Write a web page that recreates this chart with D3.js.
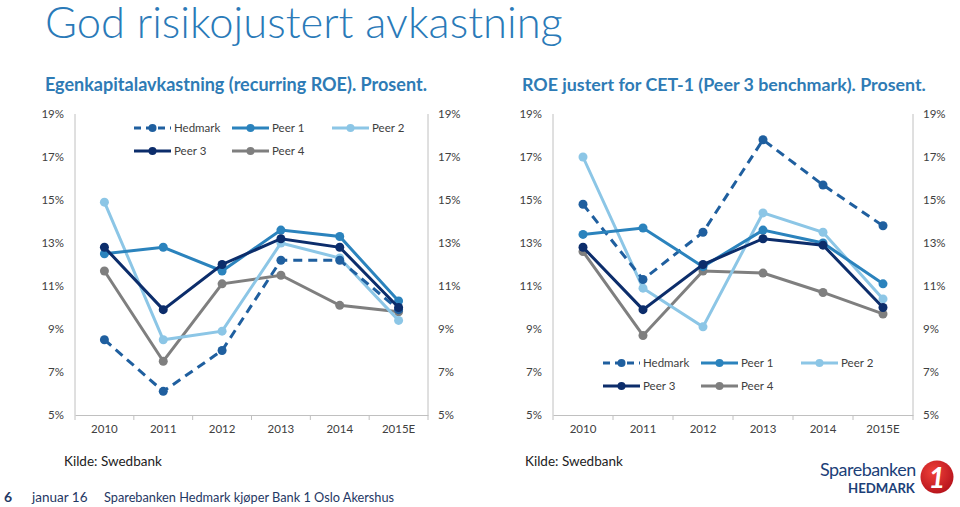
<!DOCTYPE html>
<html><head><meta charset="utf-8">
<script src="https://cdn.jsdelivr.net/npm/d3@7"></script>
<style>
html,body{margin:0;padding:0;background:#fff;}
svg{display:block;}
text{font-family:Lato,"Open Sans",sans-serif;}
</style></head>
<body>
<svg id="c" width="960" height="507"></svg>
<script>
const years = ["2010","2011","2012","2013","2014","2015E"];
const yTicks = [5,7,9,11,13,15,17,19];
const seriesNames = ["Hedmark","Peer 1","Peer 2","Peer 3","Peer 4"];
// Left chart: recurring ROE (%)
const leftHedmark = [8.5, 6.1, 8.0, 12.2, 12.2, 9.9];
const leftPeer1   = [12.5, 12.8, 11.7, 13.6, 13.3, 10.3];
const leftPeer2   = [14.9, 8.5, 8.9, 13.0, 12.3, 9.4];
const leftPeer3   = [12.8, 9.9, 12.0, 13.2, 12.8, 10.0];
const leftPeer4   = [11.7, 7.5, 11.1, 11.5, 10.1, 9.8];
// Right chart: ROE adjusted for CET-1 (%)
const rightHedmark = [14.8, 11.3, 13.5, 17.8, 15.7, 13.8];
const rightPeer1   = [13.4, 13.7, 11.9, 13.6, 13.0, 11.1];
const rightPeer2   = [17.0, 10.9, 9.1, 14.4, 13.5, 10.4];
const rightPeer3   = [12.8, 9.9, 12.0, 13.2, 12.9, 10.0];
const rightPeer4   = [12.6, 8.7, 11.7, 11.6, 10.7, 9.7];

const colors = {"Hedmark":"#1f5f9f","Peer 1":"#2b83bd","Peer 2":"#8cc6e6","Peer 3":"#0c2d6b","Peer 4":"#7f7f7f"};
const dashed = {"Hedmark":true};

const svg = d3.select("#c");

function fitText(sel, target){
  const w = sel.node().getComputedTextLength();
  const fs = parseFloat(sel.attr("font-size"));
  sel.attr("font-size", (fs*target/w).toFixed(2));
}

// Title
fitText(svg.append("text").attr("x",45).attr("y",38).attr("font-size",40).attr("font-weight",300)
  .attr("fill","#2a7ab8").text("God risikojustert avkastning"), 518);
fitText(svg.append("text").attr("x",45).attr("y",91).attr("font-size",18).attr("font-weight",700)
  .attr("fill","#2e7bb5").text("Egenkapitalavkastning (recurring ROE). Prosent."), 382);
fitText(svg.append("text").attr("x",522).attr("y",91).attr("font-size",18).attr("font-weight",700)
  .attr("fill","#2e7bb5").text("ROE justert for CET-1 (Peer 3 benchmark). Prosent."), 404);

function chart(x0, x1, data, legendPos){
  const g = svg.append("g");
  const x = d3.scaleBand().domain(years).range([x0, x1]).padding(0);
  const y = d3.scaleLinear().domain([5,19]).range([415,114]);
  const axisColor = "#c0c0c0";
  g.append("line").attr("x1",x0).attr("x2",x0).attr("y1",y(19)).attr("y2",y(5)).attr("stroke",axisColor).attr("stroke-width",1);
  g.append("line").attr("x1",x1).attr("x2",x1).attr("y1",y(19)).attr("y2",y(5)).attr("stroke",axisColor).attr("stroke-width",1);
  const xAxis = d3.axisBottom(x).tickSize(0).tickPadding(10);
  const ga = g.append("g").attr("transform",`translate(0,${y(5)})`).call(xAxis);
  ga.select(".domain").attr("stroke",axisColor);
  ga.selectAll("text").attr("font-size",11.5).attr("fill","#404040").attr("font-family","Lato,sans-serif");
  const bounds = years.map(d=>x(d)).concat([x1]);
  g.selectAll(".bt").data(bounds).enter().append("line")
    .attr("x1",d=>d).attr("x2",d=>d).attr("y1",y(5)).attr("y2",y(5)+5).attr("stroke",axisColor);
  const yl = d3.axisLeft(y).tickValues(yTicks).tickSize(0).tickPadding(11).tickFormat(d=>d+"%");
  const gl = g.append("g").attr("transform",`translate(${x0},0)`).call(yl);
  gl.select(".domain").remove();
  gl.selectAll("text").attr("font-size",11.5).attr("fill","#404040").attr("font-family","Lato,sans-serif");
  const yr = d3.axisRight(y).tickValues(yTicks).tickSize(0).tickPadding(10).tickFormat(d=>d+"%");
  const gr = g.append("g").attr("transform",`translate(${x1},0)`).call(yr);
  gr.select(".domain").remove();
  gr.selectAll("text").attr("font-size",11.5).attr("fill","#404040").attr("font-family","Lato,sans-serif");

  const line = d3.line().x((d,i)=>x(years[i])+x.bandwidth()/2).y(d=>y(d));
  data.forEach(s=>{
    g.append("path").attr("d",line(s.values)).attr("fill","none")
      .attr("stroke",colors[s.name]).attr("stroke-width",3)
      .attr("stroke-dasharray",dashed[s.name]?"9,6":null);
    g.selectAll(null).data(s.values).enter().append("circle")
      .attr("cx",(d,i)=>x(years[i])+x.bandwidth()/2).attr("cy",d=>y(d)).attr("r",4.5)
      .attr("fill",colors[s.name]);
  });

  const [lx, ly] = legendPos;
  const offs = [[0,0],[98,0],[198,0],[0,23],[98,23]];
  seriesNames.forEach((n,i)=>{
    const lg = g.append("g").attr("transform",`translate(${lx+offs[i][0]},${ly+offs[i][1]})`);
    lg.append("line").attr("x1",0).attr("x2",37).attr("y1",0).attr("y2",0)
      .attr("stroke",colors[n]).attr("stroke-width",3).attr("stroke-dasharray",dashed[n]?"7,5":null);
    lg.append("circle").attr("cx",18.5).attr("cy",0).attr("r",4).attr("fill",colors[n]);
    lg.append("text").attr("x",40).attr("y",4).attr("font-size",11.5).attr("fill","#404040").text(n);
  });
}

chart(75, 428, [
  {name:"Peer 4",values:leftPeer4},
  {name:"Peer 2",values:leftPeer2},
  {name:"Hedmark",values:leftHedmark},
  {name:"Peer 1",values:leftPeer1},
  {name:"Peer 3",values:leftPeer3}
], [134,128]);

chart(553, 913, [
  {name:"Peer 4",values:rightPeer4},
  {name:"Peer 2",values:rightPeer2},
  {name:"Hedmark",values:rightHedmark},
  {name:"Peer 1",values:rightPeer1},
  {name:"Peer 3",values:rightPeer3}
], [603,363]);

// sources
svg.append("text").attr("x",64).attr("y",466).attr("font-size",13.5).attr("fill","#222").text("Kilde: Swedbank");
svg.append("text").attr("x",525).attr("y",466).attr("font-size",13.5).attr("fill","#222").text("Kilde: Swedbank");

// footer
svg.append("text").attr("x",4).attr("y",502).attr("font-size",14).attr("font-weight",700).attr("fill","#1f3864").text("6");
svg.append("text").attr("x",32).attr("y",502).attr("font-size",13.5).attr("fill","#1f3864").text("januar 16");
fitText(svg.append("text").attr("x",104).attr("y",502).attr("font-size",13.5).attr("fill","#1f3864")
  .text("Sparebanken Hedmark kjøper Bank 1 Oslo Akershus"), 290);

// logo
fitText(svg.append("text").attr("x",820).attr("y",476).attr("font-size",19).attr("font-family","'DejaVu Sans',sans-serif")
  .attr("fill","#1c3f78").attr("letter-spacing",-0.5).text("Sparebanken"), 96);
fitText(svg.append("text").attr("x",848).attr("y",493).attr("font-size",13).attr("font-weight",700).attr("font-family","'DejaVu Sans',sans-serif")
  .attr("fill","#1c3f78").text("HEDMARK"), 67);
const defs = svg.append("defs");
const rg = defs.append("radialGradient").attr("id","rg").attr("cx","40%").attr("cy","35%").attr("r","70%");
rg.append("stop").attr("offset","0%").attr("stop-color","#f0413a");
rg.append("stop").attr("offset","100%").attr("stop-color","#b5121b");
svg.append("circle").attr("cx",937).attr("cy",477).attr("r",16.5).attr("fill","url(#rg)");
svg.append("text").attr("x",937).attr("y",488).attr("text-anchor","middle").attr("font-size",29).attr("font-weight",700)
  .attr("font-style","italic").attr("font-family","'DejaVu Sans',sans-serif").attr("fill","#fff").text("1");
</script>
</body></html>
